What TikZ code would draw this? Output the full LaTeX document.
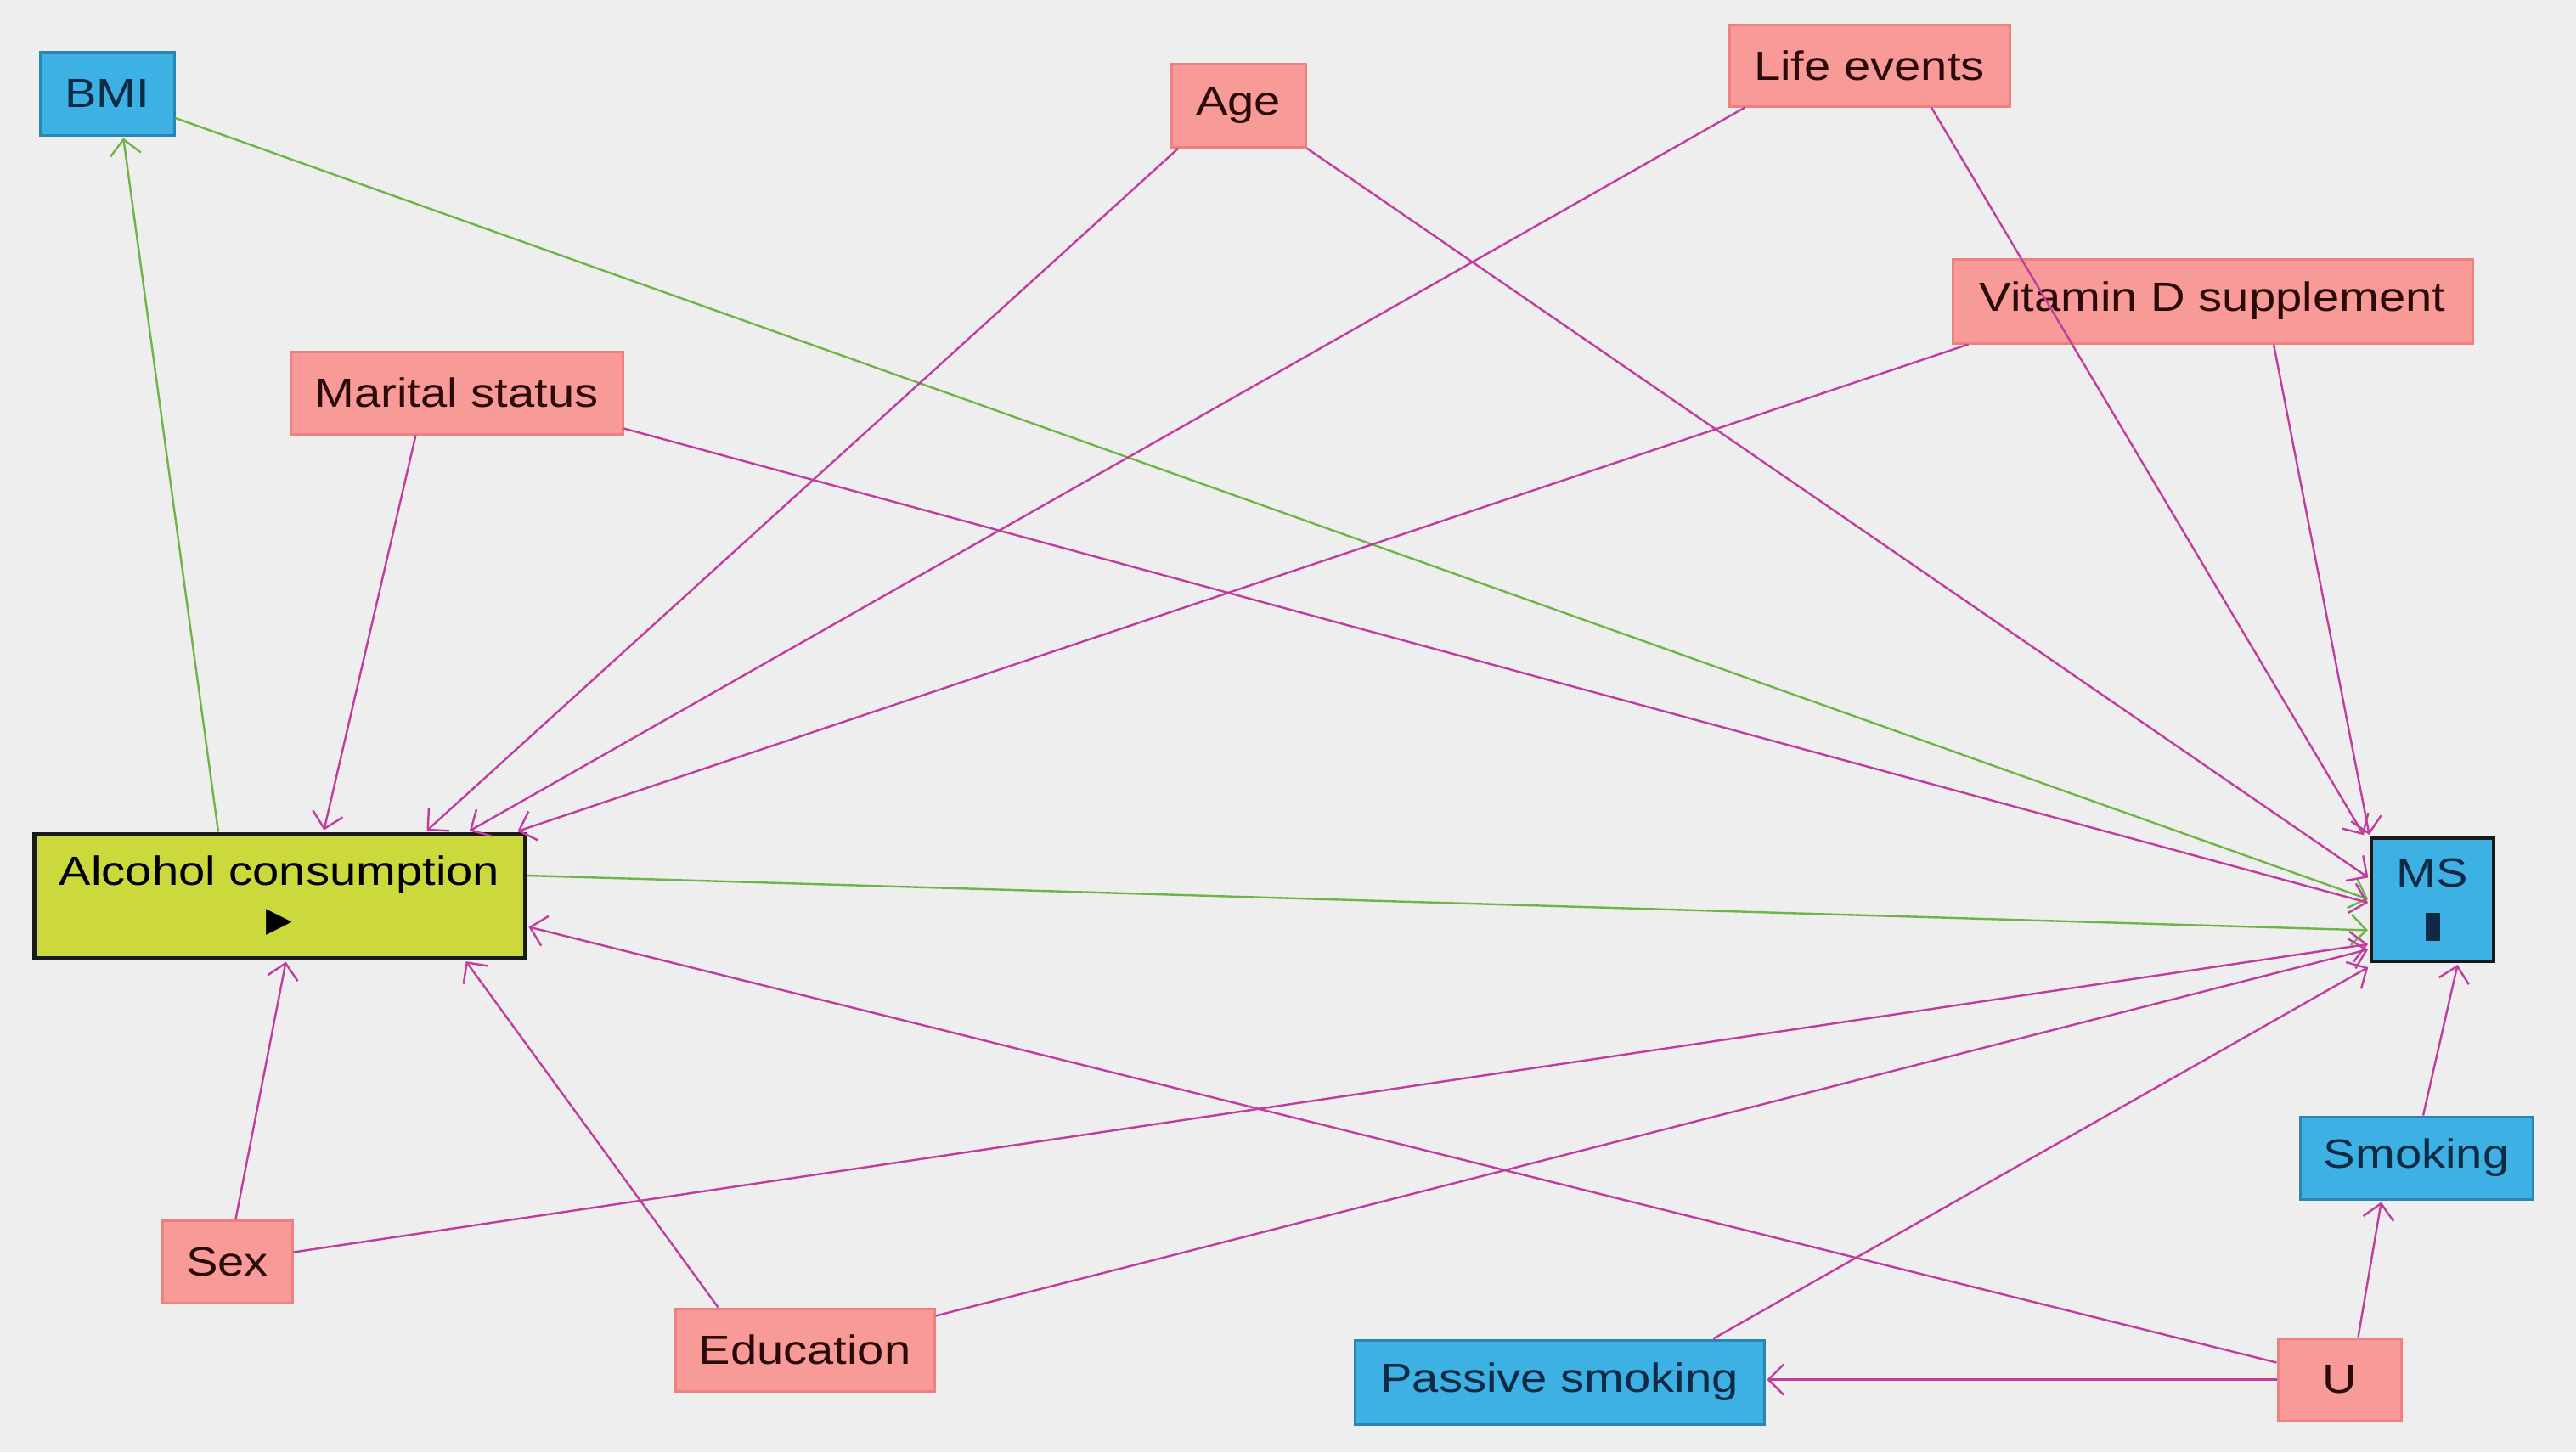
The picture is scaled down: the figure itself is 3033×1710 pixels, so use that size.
\documentclass[tikz,border=0pt]{standalone}
\usepackage{fontspec}
\setmainfont{Liberation Sans}[FakeStretch=1.17]
\newfontfamily\symfont{DejaVu Sans}
\usetikzlibrary{arrows.meta,calc}
\definecolor{bgc}{HTML}{EEEEEE}
\definecolor{pinkfill}{HTML}{F89A98}
\definecolor{pinkline}{HTML}{F07F80}
\definecolor{bluefill}{HTML}{3DB1E3}
\definecolor{blueline}{HTML}{2A86B0}
\definecolor{alcfill}{HTML}{CBD93C}
\definecolor{edgepink}{HTML}{C03C9E}
\definecolor{edgegreen}{HTML}{6EB446}
\definecolor{pinktext}{HTML}{2B0A0A}
\definecolor{bluetext}{HTML}{0E2A45}
\begin{document}
\begin{tikzpicture}[x=0.5pt,y=-0.5pt,
  every node/.style={font=\fontsize{24}{30}\selectfont, inner sep=0pt, align=center},
  pinkbox/.style={rectangle, fill=pinkfill, draw=pinkline, line width=1.5pt, text=pinktext},
  bluebox/.style={rectangle, fill=bluefill, draw=blueline, line width=1.5pt, text=bluetext},
  alcbox/.style={rectangle, fill=alcfill, draw=black!90, line width=2.5pt, text=black},
  msbox/.style={rectangle, fill=bluefill, draw=black!90, line width=2pt, text=bluetext},
  pinkarrow/.style={draw=edgepink, line width=1.2pt, -{Straight Barb[length=9pt,width=18pt]}, shorten >=1pt},
  greenarrow/.style={draw=edgegreen, line width=1.2pt, -{Straight Barb[length=9pt,width=18pt]}, shorten >=1pt}]
\fill[bgc] (0,0) rectangle (3033,1710);
\useasboundingbox (0,0) rectangle (3033,1710);

\node[bluebox, minimum width=79pt, minimum height=49pt] (BMI) at (126,110) {BMI};
\node[pinkbox, minimum width=79pt, minimum height=49pt] (Age) at (1458,124) {Age};
\node[pinkbox, minimum width=165pt, minimum height=48pt] (Life) at (2201,77) {Life events};
\node[pinkbox, minimum width=306pt, minimum height=49.5pt] (VitD) at (2605,354.5) {Vitamin D supplement};
\node[pinkbox, minimum width=195.5pt, minimum height=48.5pt] (Mar) at (537.5,462.5) {Marital status};
\node[alcbox, minimum width=289pt, minimum height=73pt] (Alc) at (329,1055) {Alcohol consumption\\[-3pt]{\symfont\fontsize{20}{24}\selectfont ▶}};
\node[msbox, minimum width=72pt, minimum height=72.5pt] (MS) at (2864,1059.5) {MS\\[2pt]\rule{8.5pt}{16.5pt}};
\node[bluebox, minimum width=137pt, minimum height=48.5pt] (Smk) at (2845,1363.5) {Smoking};
\node[pinkbox, minimum width=76.5pt, minimum height=48.5pt] (Sex) at (267.5,1485.5) {Sex};
\node[pinkbox, minimum width=152.5pt, minimum height=48.5pt] (Edu) at (947.5,1589.5) {Education};
\node[bluebox, minimum width=241pt, minimum height=49.5pt] (Pas) at (1836,1627.5) {Passive smoking};
\node[pinkbox, minimum width=72.5pt, minimum height=48.5pt] (U) at (2754.5,1624.5) {U};

% green edges
\draw[greenarrow] ($(BMI.east)+(0,29)$) -- (MS.west);
\draw[greenarrow] ($(Alc.north)+(-72,0)$) -- ($(BMI.south)+(19,0)$);
\draw[greenarrow] ($(Alc.east)+(0,-24)$) -- ($(MS.west)+(0,36)$);

% pink edges into MS
\draw[pinkarrow] ($(Mar.east)+(0,42)$) -- ($(MS.west)+(0,4)$);
\draw[pinkarrow] (Age.south east) -- ($(MS.west)+(0,-25)$);
\draw[pinkarrow] ($(Life.south)+(73,0)$) -- ($(MS.north west)+(-6,0)$);
\draw[pinkarrow] ($(VitD.south)+(72,0)$) -- (MS.north west);
\draw[pinkarrow] ($(Sex.east)+(0,-11)$) -- ($(MS.west)+(0,52)$);
\draw[pinkarrow] ($(Edu.east)+(0,-40)$) -- ($(MS.west)+(0,58)$);
\draw[pinkarrow] ($(Pas.north)+(181,0)$) -- ($(MS.south west)+(0,4)$);
\draw[pinkarrow] ($(Smk.north)+(8,0)$) -- ($(MS.south)+(30,0)$);

% pink edges into Alcohol consumption
\draw[pinkarrow] ($(Mar.south)+(-48,0)$) -- ($(Alc.north)+(52,0)$);
\draw[pinkarrow] ($(Age.south west)+(10,0)$) -- ($(Alc.north)+(172,0)$);
\draw[pinkarrow] ($(Life.south west)+(20,0)$) -- ($(Alc.north)+(222,0)$);
\draw[pinkarrow] ($(VitD.south west)+(20,0)$) -- ($(Alc.north east)+(-13,0)$);
\draw[pinkarrow] ($(Sex.north)+(10,0)$) -- ($(Alc.south)+(8,0)$);
\draw[pinkarrow] ($(Edu.north west)+(52,0)$) -- ($(Alc.south east)+(-73,0)$);
\draw[pinkarrow] ($(U.west)+(0,-20)$) -- ($(Alc.east)+(0,36)$);

% U edges
\draw[pinkarrow] (U.west) -- (U.west -| Pas.east);
\draw[pinkarrow] ($(U.north)+(22,0)$) -- ($(Smk.south)+(-41,0)$);
\end{tikzpicture}
\end{document}
